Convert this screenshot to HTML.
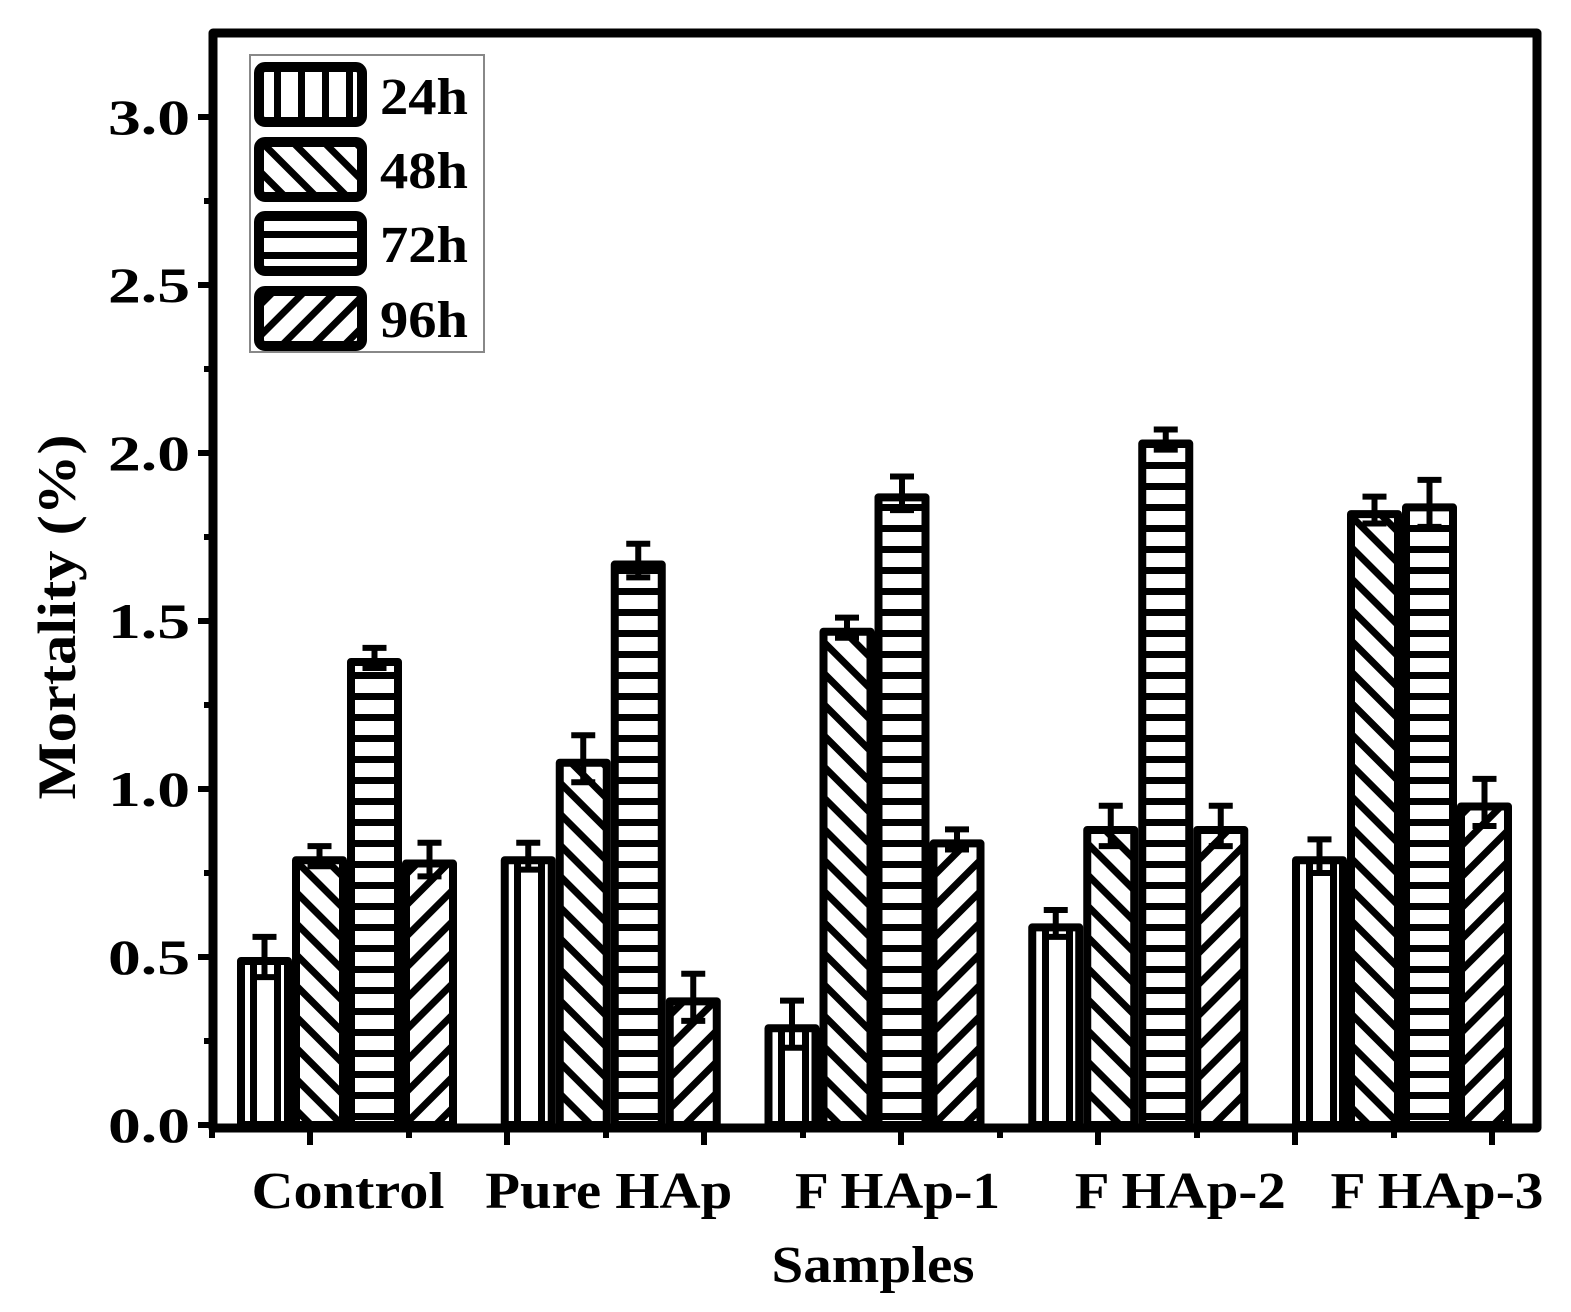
<!DOCTYPE html>
<html><head><meta charset="utf-8"><style>
html,body{margin:0;padding:0;background:#fff;}
svg{display:block;font-family:"Liberation Serif",serif;font-weight:bold;}
</style></head><body>
<svg id="chart" width="1571" height="1312" viewBox="0 0 1571 1312">
<defs>
<pattern id="p24" patternUnits="userSpaceOnUse" width="24" height="20"><rect width="24" height="20" fill="#fff"/><rect x="10" width="7" height="20" fill="#000"/></pattern>
<pattern id="p48" patternUnits="userSpaceOnUse" width="22" height="22" patternTransform="rotate(45)"><rect width="22" height="22" fill="#fff"/><rect y="0" width="22" height="7" fill="#000"/></pattern>
<pattern id="p72" patternUnits="userSpaceOnUse" width="20" height="21"><rect width="20" height="21" fill="#fff"/><rect y="0" width="20" height="7" fill="#000"/></pattern>
<pattern id="p96" patternUnits="userSpaceOnUse" width="22" height="22" patternTransform="rotate(-45)"><rect width="22" height="22" fill="#fff"/><rect y="0" width="22" height="7" fill="#000"/></pattern>
</defs>
<g id="bars"></g>
<g id="axes"></g>
<g>
<rect x="250" y="55" width="234" height="297" fill="#fff" stroke="#888" stroke-width="2"/>
<g><rect x="259" y="67" width="103" height="55" rx="6" fill="url(#p24)" stroke="#000" stroke-width="10"/><text x="380" y="114" font-size="52" textLength="88" lengthAdjust="spacingAndGlyphs">24h</text></g>
<g><rect x="259" y="142" width="103" height="55" rx="6" fill="url(#p48)" stroke="#000" stroke-width="10"/><text x="380" y="188" font-size="52" textLength="88" lengthAdjust="spacingAndGlyphs">48h</text></g>
<g><rect x="259" y="216" width="103" height="55" rx="6" fill="url(#p72)" stroke="#000" stroke-width="10"/><text x="380" y="262" font-size="52" textLength="88" lengthAdjust="spacingAndGlyphs">72h</text></g>
<g><rect x="259" y="291" width="103" height="55" rx="6" fill="url(#p96)" stroke="#000" stroke-width="10"/><text x="380" y="337" font-size="52" textLength="88" lengthAdjust="spacingAndGlyphs">96h</text></g>
</g>
<text x="75" y="617" font-size="54" text-anchor="middle" textLength="365" lengthAdjust="spacingAndGlyphs" transform="rotate(-90 75 617)">Mortality (%)</text>
<text x="873" y="1282" font-size="52" text-anchor="middle" textLength="203" lengthAdjust="spacingAndGlyphs">Samples</text>
</svg>
<script>
const categories = ["Control","Pure HAp","F HAp-1","F HAp-2","F HAp-3"];
const seriesNames = ["24h","48h","72h","96h"];
const v24 = [0.50, 0.80, 0.30, 0.60, 0.80];
const v48 = [0.80, 1.09, 1.48, 0.89, 1.83];
const v72 = [1.39, 1.68, 1.88, 2.04, 1.85];
const v96 = [0.79, 0.38, 0.85, 0.89, 0.96];
const e24 = [0.06, 0.04, 0.07, 0.04, 0.05];
const e48 = [0.03, 0.07, 0.03, 0.06, 0.04];
const e72 = [0.03, 0.05, 0.05, 0.03, 0.07];
const e96 = [0.05, 0.07, 0.03, 0.06, 0.07];
const yTicks = ["0.0","0.5","1.0","1.5","2.0","2.5","3.0"];

const NS="http://www.w3.org/2000/svg";
const y0=1125, pxPerUnit=336;
function yS(v){return y0-v*pxPerUnit;}
function groupX(i){return 237+i*263.75;}
const barW=55;
const labelShift=[1,-2,23,42,35];
const labelW=[193,247,205,211,213];
function mk(tag,attrs,parent){const e=document.createElementNS(NS,tag);for(const k in attrs)e.setAttribute(k,attrs[k]);parent.appendChild(e);return e;}
const bars=document.getElementById('bars');
const vals=[v24,v48,v72,v96], errs=[e24,e48,e72,e96], pats=["p24","p48","p72","p96"];
categories.forEach((c,i)=>{
  vals.forEach((arr,s)=>{
    const x=groupX(i)+s*barW, top=yS(arr[i]);
    const r=mk('rect',{x:x+4,y:top+4,width:barW-8,height:y0-top-4,fill:'url(#'+pats[s]+')',stroke:'#000','stroke-width':8,'stroke-linejoin':'round'},bars);
    
    
    const cx=x+barW/2, eh=yS(arr[i]+errs[s][i]), el=yS(arr[i]-errs[s][i]);
    const g=mk('g',{stroke:'#000','stroke-width':6},bars);
    
    
    mk('line',{x1:cx,y1:eh,x2:cx,y2:el},g);
    mk('line',{x1:cx-12,y1:eh,x2:cx+12,y2:eh},g);
    mk('line',{x1:cx-12,y1:el,x2:cx+12,y2:el},g);
  });
  const t=mk('text',{x:groupX(i)+2*barW+labelShift[i],y:1208,'font-size':52,'text-anchor':'middle',textLength:labelW[i],lengthAdjust:'spacingAndGlyphs'},bars);
  t.textContent=c;
  
  
});
const ax=document.getElementById('axes');
const frame=mk('path',{d:'M213 33 H1537 V1128 H213 Z',fill:'none',stroke:'#000','stroke-width':9,'stroke-linejoin':'round'},ax);


yTicks.forEach((t,k)=>{
  const v=parseFloat(t), y=yS(v);
  mk('line',{x1:198,y1:y,x2:213,y2:y,stroke:'#000','stroke-width':6},ax);
  if(k<yTicks.length-1) mk('line',{x1:204,y1:yS(v+0.25),x2:213,y2:yS(v+0.25),stroke:'#000','stroke-width':6},ax);
  const tx=mk('text',{x:190,y:y+17,'font-size':50,'text-anchor':'end',textLength:82,lengthAdjust:'spacingAndGlyphs'},ax);
  tx.textContent=t;
  
  
});
for(let x=310;x<1537;x+=197){mk('line',{x1:x,y1:1128,x2:x,y2:1145,stroke:'#000','stroke-width':6},ax);}
for(let x=212;x<1537;x+=197){mk('line',{x1:x,y1:1128,x2:x,y2:1138,stroke:'#000','stroke-width':6},ax);}
</script>
</body></html>
